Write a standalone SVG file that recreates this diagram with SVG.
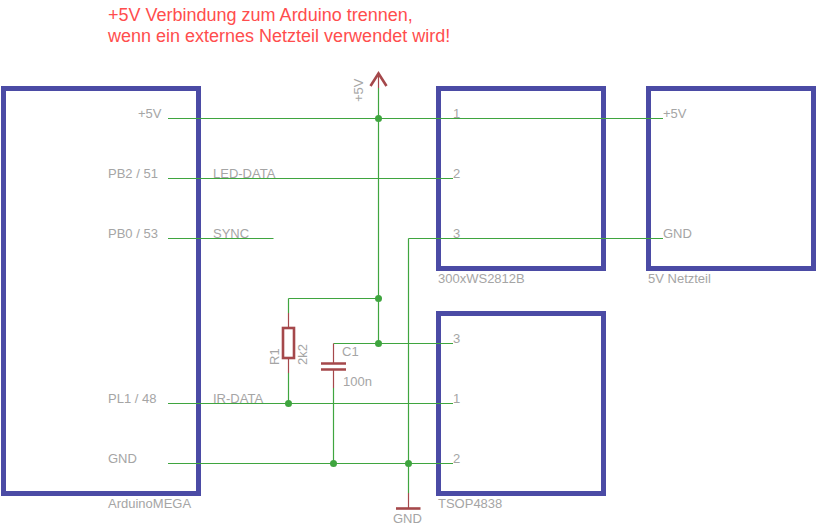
<svg xmlns="http://www.w3.org/2000/svg" width="817" height="528" viewBox="0 0 817 528">
<style>
text{font-family:"Liberation Sans",Arial,sans-serif;font-size:13px;fill:#a5a5a5}
.note{font-size:18px;fill:#ff4d4d}
.box{fill:none;stroke:#4b4ba5;stroke-width:5;stroke-linejoin:miter}
.w{fill:none;stroke:#3fa53f;stroke-width:1.2}
.j{fill:#3fa53f}
.r{fill:none;stroke:#a5484b;stroke-width:1.2}
.rb{fill:none;stroke:#a5484b;stroke-width:2.6}
</style>
<rect width="817" height="528" fill="#fff"/>
<g id="note"><text class="note" x="108" y="21">+5V Verbindung zum Arduino trennen,</text><text class="note" x="108" y="42">wenn ein externes Netzteil verwendet wird!</text></g>
<g id="arduino"><rect class="box" x="3.5" y="88.5" width="195" height="405"/>
<text x="138" y="118">+5V</text><text x="108" y="178">PB2 / 51</text><text x="108" y="238">PB0 / 53</text><text x="108" y="403">PL1 / 48</text><text x="108" y="463">GND</text><text x="108" y="508">ArduinoMEGA</text>
<text x="213" y="178">LED-DATA</text><text x="213" y="238">SYNC</text><text x="213" y="403">IR-DATA</text></g>
<g id="ws2812"><rect class="box" x="438.5" y="88.5" width="165" height="180"/>
<text x="453" y="118">1</text><text x="453" y="178">2</text><text x="453" y="238">3</text><text x="438" y="283">300xWS2812B</text></g>
<g id="netzteil"><rect class="box" x="648.5" y="88.5" width="165" height="180"/>
<text x="663" y="118">+5V</text><text x="663" y="238">GND</text><text x="648" y="283">5V Netzteil</text></g>
<g id="tsop"><rect class="box" x="438.5" y="313.5" width="165" height="180"/>
<text x="453" y="343">3</text><text x="453" y="403">1</text><text x="453" y="463">2</text><text x="438" y="508">TSOP4838</text></g>
<g id="connectors">
<path class="w" d="M168 118.5H663M168 178.5H453M168 238.5H273.500M408.500 238.500H663M168 403.500H453M168 463.500H453M378.500 88V343.500M333.500 343.500H453M288.500 298.500H378.500M288.500 298.500V313M288.500 373V403.500M333.500 388V463.500M408.500 238.500V493"/>
<g class="j"><circle cx="378.500" cy="118.500" r="3.500"/><circle cx="378.500" cy="298.500" r="3.500"/><circle cx="378.500" cy="343.500" r="3.500"/><circle cx="288.500" cy="403.500" r="3.500"/><circle cx="333.500" cy="463.500" r="3.500"/><circle cx="408.500" cy="463.500" r="3.500"/></g>
</g>
<g id="supply-5v"><path class="r" d="M378.500 88V73"/><path class="rb" d="M370.500 86L378.500 73.500L386.500 86" stroke-width="2"/><text transform="translate(363,102) rotate(-90)">+5V</text></g>
<g id="supply-gnd"><path class="r" d="M408.500 493V508"/><path class="rb" d="M396 508.500H420.500"/><text x="393" y="523">GND</text></g>
<g id="r1"><path class="r" d="M288.500 313V328M288.500 358V373"/><rect class="rb" x="283" y="328" width="11" height="30"/><text transform="translate(279,365) rotate(-90)">R1</text><text transform="translate(307,365) rotate(-90)">2k2</text></g>
<g id="c1"><path class="r" d="M333.500 343.500V363M333.500 369V388"/><path class="rb" d="M321 363.500H346M321 369.500H346"/><text x="342" y="356">C1</text><text x="343" y="386">100n</text></g>
</svg>
